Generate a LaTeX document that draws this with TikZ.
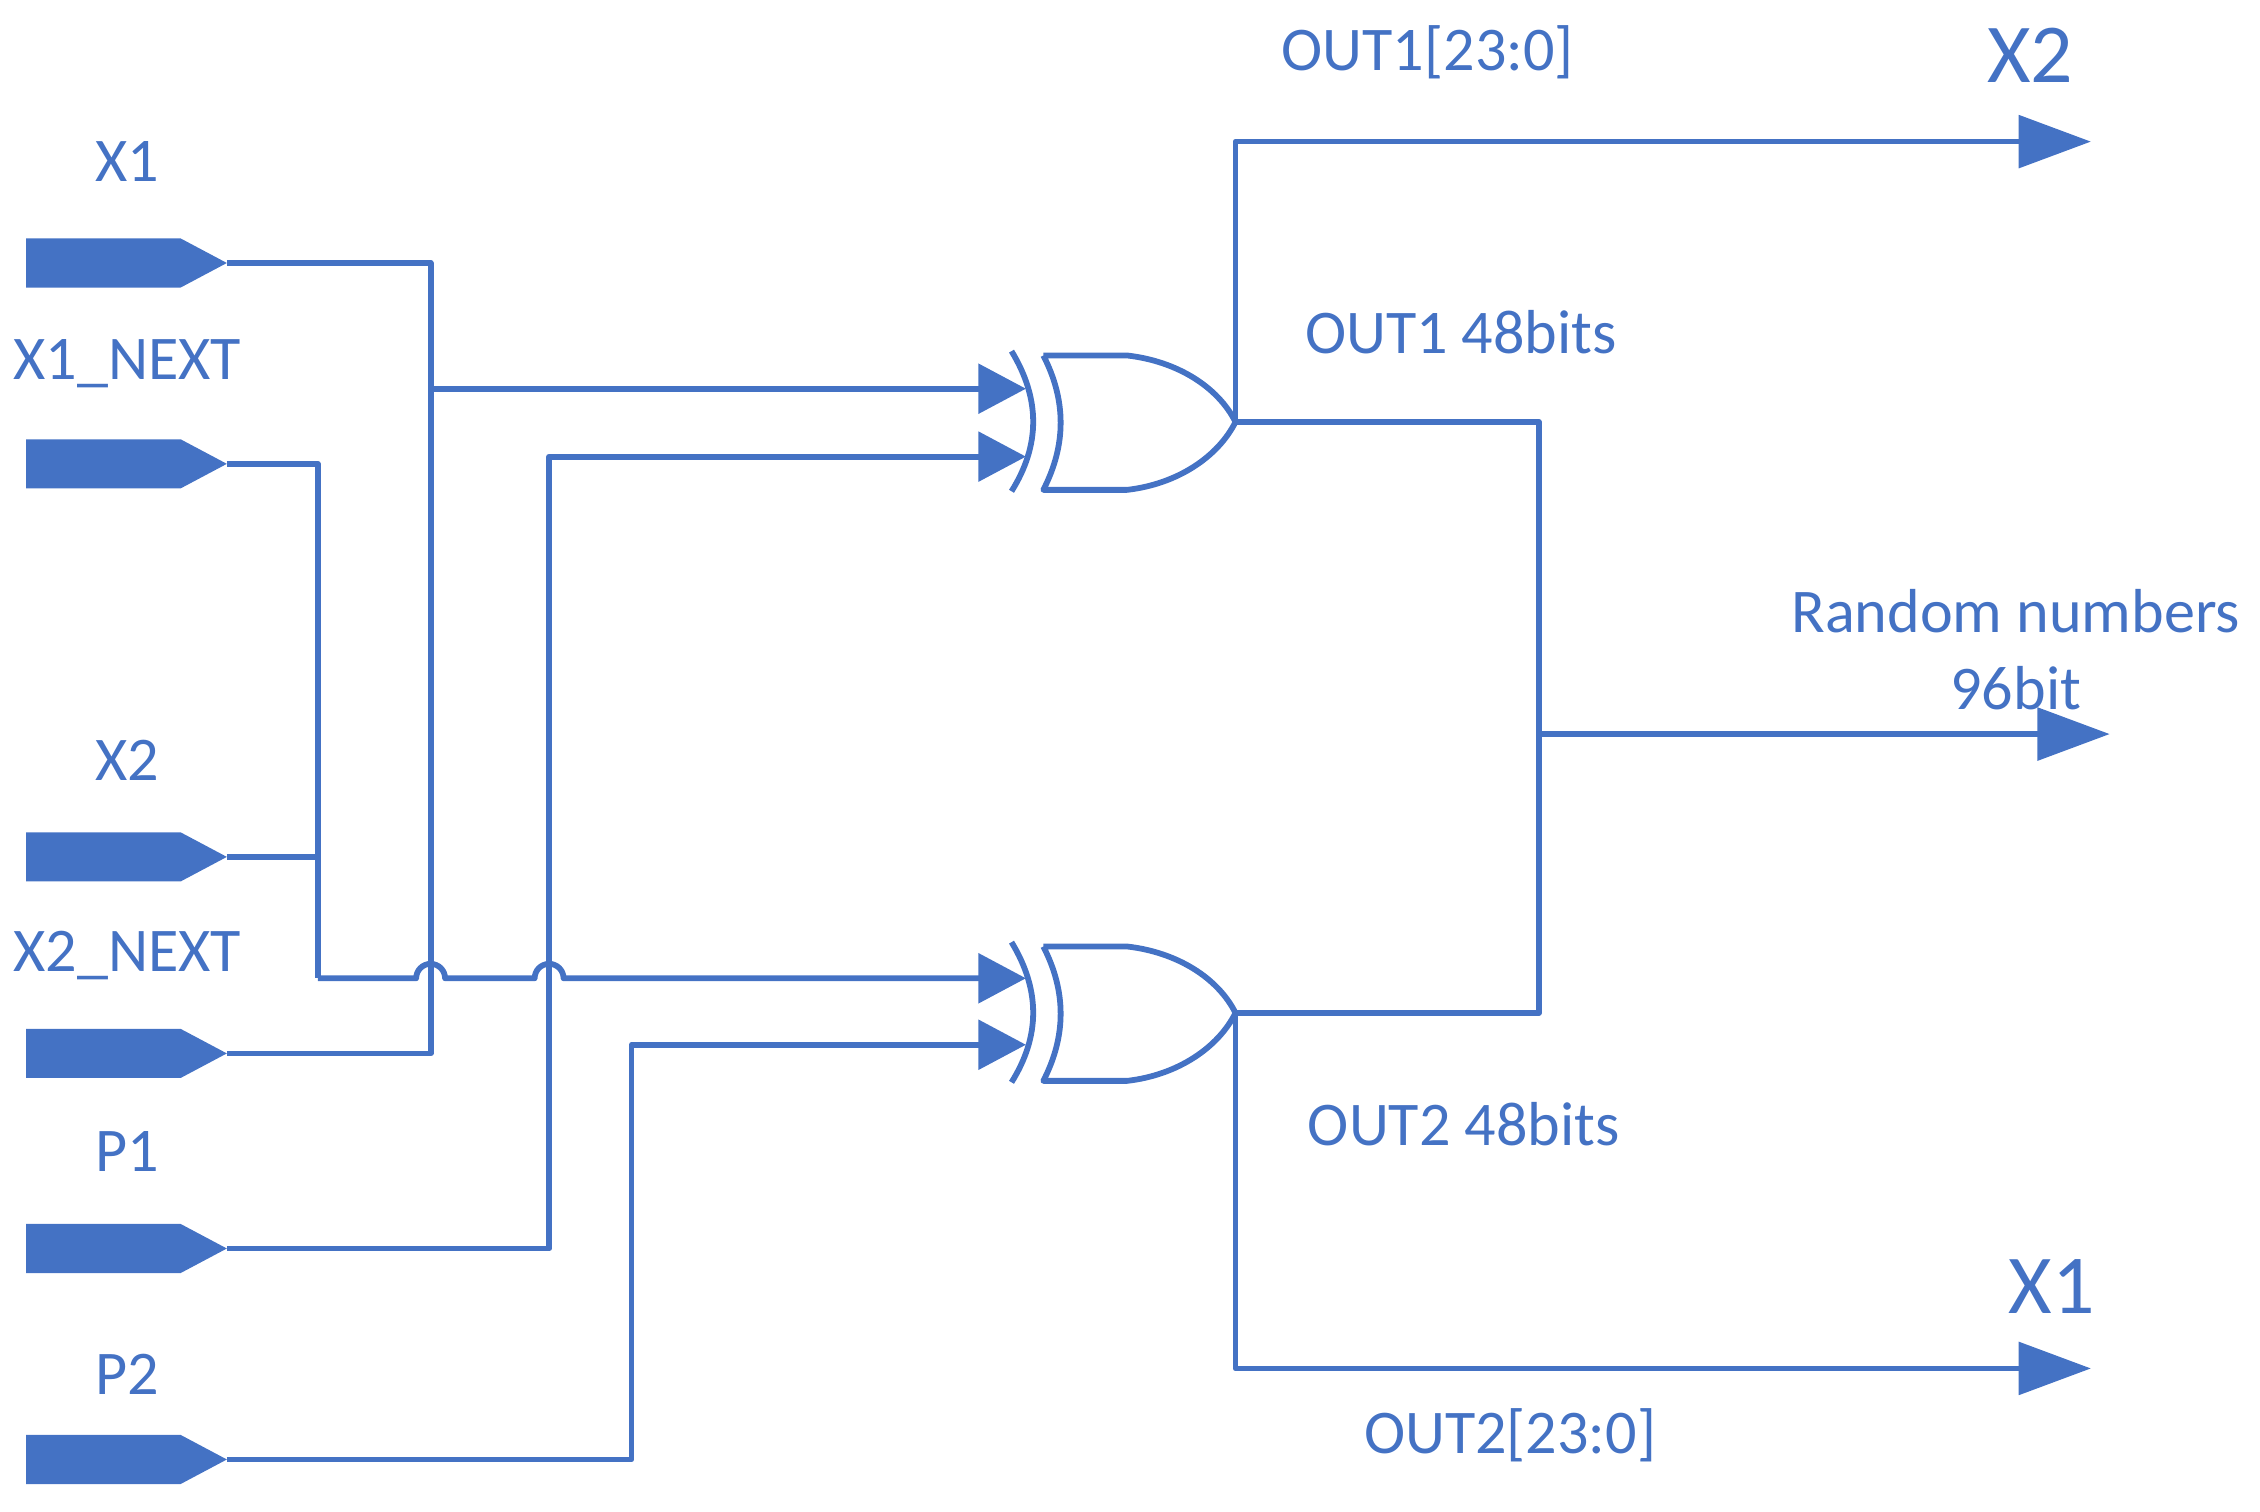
\documentclass[tikz,border=0pt]{standalone}
\usepackage{fontspec}
\setmainfont{Carlito}
\usetikzlibrary{arrows.meta}
\definecolor{bl}{RGB}{68,114,196}
\tikzset{
  w/.style={draw=bl,line width=4pt,line join=round},
  ain/.style={w,-{Triangle[length=33pt,width=34pt]}},
  aout/.style={w,-{Triangle[length=50pt,width=36pt]}},
  lbl/.style={text=bl,font=\fontsize{43}{48}\selectfont,inner sep=0pt},
  big/.style={text=bl,font=\fontsize{58}{64}\selectfont,inner sep=0pt},
}
\newcommand{\pin}[2]{%
  \fill[bl] (18,#1-17) -- (125,#1-17) -- (157,#1) -- (125,#1+17) -- (18,#1+17) -- cycle;
  \coordinate (#2) at (157,#1);}
\newcommand{\xorgate}[2]{%
  \begin{scope}[yshift=-#1pt]
  \draw[w] (700,243) .. controls (720,276) and (720,308) .. (700,340);
  \draw[w] (722,246) -- (780,246) .. controls (815,250) and (843,268) .. (855,292)
     .. controls (843,316) and (815,335) .. (780,339) -- (722,339)
     .. controls (738,308) and (738,277) .. (722,246);
  \end{scope}
  \coordinate (#2) at (855,292+#1);}
\begin{document}
\begin{tikzpicture}[x=1pt,y=-1pt]
\useasboundingbox (0,0) rectangle (1564,1046);
\pin{182}{x1}\pin{321}{x1n}\pin{593}{x2}\pin{729}{x2n}\pin{864}{p1}\pin{1010}{p2}
\node[lbl] at (88,112) {X1};
\node[lbl] at (88,252) {X1\_NEXT};
\node[lbl] at (88,526) {X2};
\node[lbl] at (88,661) {X2\_NEXT};
\node[lbl] at (88,797) {P1};
\node[lbl] at (88,951) {P2};
\xorgate{0}{g1}
\xorgate{409}{g2}
\coordinate (i1a) at (710,269); \coordinate (i1b) at (710,316);
\coordinate (i2a) at (710,677); \coordinate (i2b) at (710,723);
% wiring
\draw[w] (x1) -| (298,729) -- (x2n);
\draw[ain] (298,269) -- (i1a);
\draw[w] (x1n) -| (220,677);
\draw[w] (x2) -- (220,593);
\draw[ain] (220,677) -- (288,677) arc (180:360:10) -- (370,677) arc (180:360:10) -- (i2a);
\draw[ain] (p1) -| (380,316) -- (i1b);
\draw[ain] (p2) -| (437,723) -- (i2b);
% outputs
\coordinate (o1) at (1447,98); \coordinate (o2) at (1447,947); \coordinate (o3) at (1460,508);
\draw[aout] (g1) |- (o1);
\draw[aout] (g2) |- (o2);
\draw[w] (g1) -- (1065,292) -- (1065,701) -- (g2);
\draw[aout] (1065,508) -- (o3);
\node[lbl] at (988,36) {OUT1[23:0]};
\node[big] at (1405,38) {X2};
\node[lbl] at (1011,230) {OUT1 48bits};
\node[lbl] at (1395,423) {Random numbers};
\node[lbl] at (1395,476) {96bit};
\node[lbl] at (1013,778) {OUT2 48bits};
\node[big] at (1420,890) {X1};
\node[lbl] at (1045,993) {OUT2[23:0]};
\end{tikzpicture}
\end{document}
